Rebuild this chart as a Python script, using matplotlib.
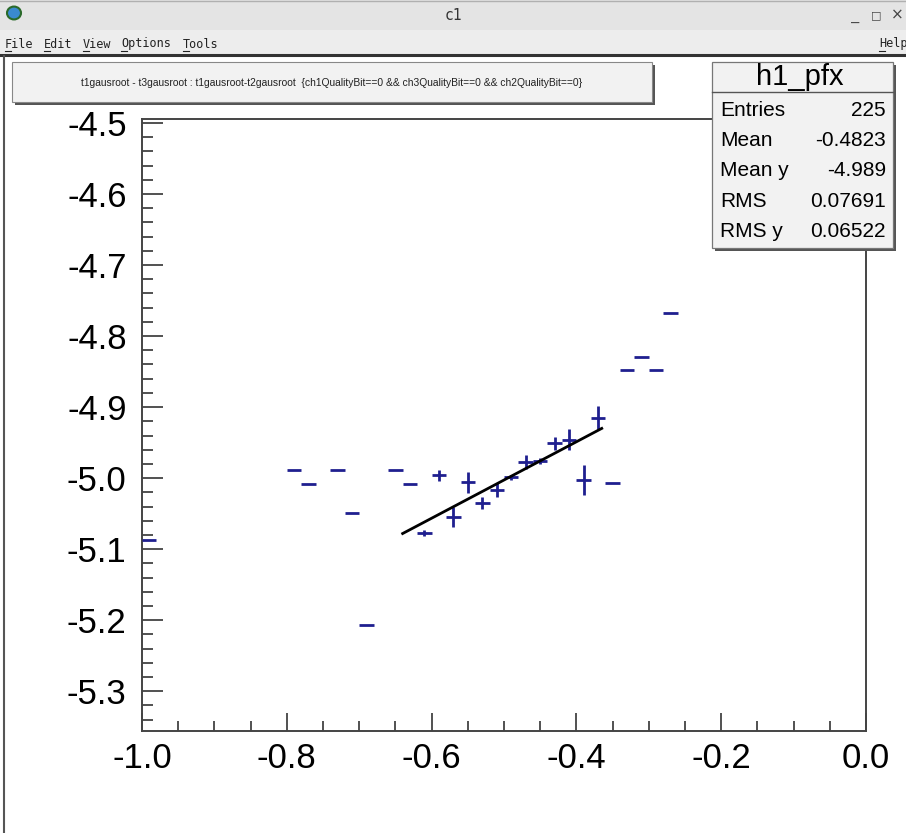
import numpy as np
import matplotlib.pyplot as plt
from matplotlib.patches import Rectangle, Circle
from matplotlib.lines import Line2D
from matplotlib.ticker import MultipleLocator, FormatStrFormatter

plt.rcParams['font.family'] = ['Liberation Sans', 'DejaVu Sans']

W, H = 906, 833

# profile bins: centre, mean of y, error on the mean
bin_x = [-0.99, -0.79, -0.77, -0.73, -0.71, -0.69, -0.65, -0.63,
         -0.61, -0.59, -0.57, -0.55, -0.53, -0.51, -0.49, -0.47,
         -0.45, -0.43, -0.41, -0.39, -0.37, -0.35, -0.33, -0.31,
         -0.29, -0.27]
bin_y = [-5.087, -4.989, -5.008, -4.989, -5.049, -5.207, -4.989, -5.008,
         -5.077, -4.996, -5.055, -5.006, -5.035, -5.017, -4.999, -4.977,
         -4.976, -4.951, -4.946, -5.003, -4.915, -5.007, -4.848, -4.830,
         -4.848, -4.768]
bin_err = [0, 0, 0, 0, 0, 0, 0, 0,
           0.004, 0.008, 0.014, 0.015, 0.009, 0.010, 0.004, 0.010,
           0.004, 0.009, 0.015, 0.021, 0.016, 0, 0, 0,
           0, 0]
bin_halfwidth = 0.01

# pol1 fit drawn over its range
fit_x = [-0.640, -0.365]
fit_y = [-5.078, -4.930]

title_text = ("t1gausroot - t3gausroot : t1gausroot-t2gausroot  "
              "{ch1QualityBit==0 && ch3QualityBit==0 && ch2QualityBit==0}")
stats_name = "h1_pfx"
stats_labels = ["Entries", "Mean", "Mean y", "RMS", "RMS y"]
stats_values = ["225", "-0.4823", "-4.989", "0.07691", "0.06522"]
menu_items = ["File", "Edit", "View", "Options", "Tools"]
menu_x = [5, 44, 83, 121, 183]


def fx(x):
    return x / W


def fy(y):
    return 1 - y / H


def rect(x0, y0, x1, y1, **kw):
    r = Rectangle((fx(x0), fy(y1)), (x1 - x0) / W, (y1 - y0) / H,
                  transform=fig.transFigure, **kw)
    fig.add_artist(r)
    return r


def hline(x0, x1, y, **kw):
    fig.add_artist(Line2D([fx(x0), fx(x1)], [fy(y), fy(y)], transform=fig.transFigure, **kw))


def vline(x, y0, y1, **kw):
    fig.add_artist(Line2D([fx(x), fx(x)], [fy(y0), fy(y1)], transform=fig.transFigure, **kw))


fig = plt.figure(figsize=(W / 100, H / 100), dpi=100)
fig.patch.set_facecolor('white')

# window chrome
rect(0, 0, W, 30, facecolor='#e4e4e4', edgecolor='none', zorder=1)
rect(0, 30, W, 54, facecolor='#ededed', edgecolor='none', zorder=1)
hline(0, W, 1, color='#b0b0b0', lw=1, zorder=2)
hline(0, W, 55, color='#333333', lw=2.2, zorder=2)
fig.add_artist(Circle((fx(14), fy(13)), 7 / W, transform=fig.transFigure,
                      facecolor='#3a8ad0', edgecolor='#2a6a2a', lw=1.5, zorder=3))
fig.text(fx(453), fy(15), "c1", ha='center', va='center', fontsize=10.5,
         family='DejaVu Sans Mono', color='#333333', zorder=3)
fig.text(fx(855), fy(17), "_", ha='center', va='center', fontsize=10,
         family='DejaVu Sans Mono', color='#444444', zorder=3)
fig.text(fx(876), fy(15), "\u25a1", ha='center', va='center', fontsize=8,
         family='DejaVu Sans', color='#444444', zorder=3)
fig.text(fx(897), fy(15), "\u00d7", ha='center', va='center', fontsize=11,
         family='DejaVu Sans', color='#444444', zorder=3)
for name, x in zip(menu_items, menu_x):
    fig.text(fx(x), fy(44), name, ha='left', va='center', fontsize=8.5,
             family='DejaVu Sans Mono', color='#222222', zorder=3)
    hline(x, x + 6, 51, color='#222222', lw=0.8, zorder=3)
fig.text(fx(879), fy(44), "Help", ha='left', va='center', fontsize=8.5,
         family='DejaVu Sans Mono', color='#222222', zorder=3)
hline(879, 885, 51, color='#222222', lw=0.8, zorder=3)
vline(4, 56, H, color='#555555', lw=1.5, zorder=2)

# title pave
rect(15, 65, 655, 105, facecolor='#555555', edgecolor='none', zorder=3)
rect(12, 62, 652, 102, facecolor='#f2f2f2', edgecolor='#888888', lw=0.8, zorder=4)
fig.text(fx(332), fy(83), title_text, ha='center', va='center', fontsize=7.4,
         color='#222222', zorder=5)

# main pad
ax = fig.add_axes([142 / W, 1 - 731 / H, (866 - 142) / W, (731 - 119) / H])
ax.set_xlim(-1.0, 0.0)
ax.set_ylim(-5.356, -4.4944)

ax.errorbar(bin_x, bin_y, xerr=bin_halfwidth, yerr=bin_err, fmt='none',
            ecolor='#1f1f8f', elinewidth=2, capsize=0, zorder=3)
ax.plot(fit_x, fit_y, color='black', lw=2, zorder=4)

for side in ['left', 'right', 'top', 'bottom']:
    ax.spines[side].set_color('#444444')
    ax.spines[side].set_linewidth(1.4)

ax.xaxis.set_major_locator(MultipleLocator(0.2))
ax.xaxis.set_minor_locator(MultipleLocator(0.05))
ax.yaxis.set_major_locator(MultipleLocator(0.1))
ax.yaxis.set_minor_locator(MultipleLocator(0.02))
ax.xaxis.set_major_formatter(FormatStrFormatter('%.1f'))
ax.yaxis.set_major_formatter(FormatStrFormatter('%.1f'))
ax.tick_params(axis='x', which='major', direction='in', length=13, width=1.2,
               color='#333333', labelsize=25, pad=8)
ax.tick_params(axis='x', which='minor', direction='in', length=7, width=1.2, color='#333333')
ax.tick_params(axis='y', which='major', direction='in', length=15, width=1.2,
               color='#333333', labelsize=25, pad=11)
ax.tick_params(axis='y', which='minor', direction='in', length=8, width=1.2, color='#333333')

# stats box
rect(715, 65, 896, 251, facecolor='#555555', edgecolor='none', zorder=5)
rect(712, 62, 893, 248, facecolor='#f2f2f2', edgecolor='#777777', lw=0.9, zorder=6)
hline(712, 893, 92, color='#555555', lw=1, zorder=7)
fig.text(fx(800), fy(77), stats_name, ha='center', va='center', fontsize=21,
         color='black', zorder=7)
for i, (lab, val) in enumerate(zip(stats_labels, stats_values)):
    y = 110 + i * 30.5
    fig.text(fx(720), fy(y), lab, ha='left', va='center', fontsize=15, zorder=7)
    fig.text(fx(886), fy(y), val, ha='right', va='center', fontsize=15, zorder=7)

fig.savefig('out.png', dpi=100)
